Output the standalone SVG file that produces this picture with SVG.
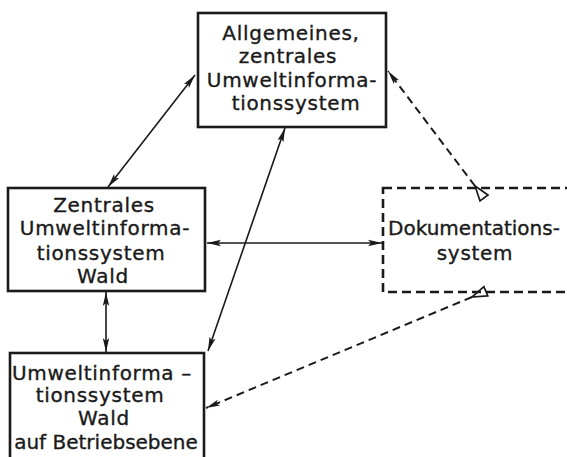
<svg xmlns="http://www.w3.org/2000/svg" width="567" height="457" viewBox="0 0 567 457">
<defs>
<style>
.box{fill:none;stroke:#1a1a1a;stroke-width:2.6}
.dbox{fill:none;stroke:#1a1a1a;stroke-width:2.6;stroke-dasharray:9 5}
.t{font-family:"DejaVu Sans",sans-serif;font-size:20px;letter-spacing:0.7px;fill:#1a1a1a;stroke:#1a1a1a;stroke-width:0.35;text-anchor:middle}
.t0{letter-spacing:0px}
.c{fill:none;stroke:#1a1a1a;stroke-width:1.6}
.cd{fill:none;stroke:#1a1a1a;stroke-width:2;stroke-dasharray:8 5}
</style>
<marker id="af" viewBox="0 0 14 8" refX="14" refY="4" markerWidth="14" markerHeight="8" markerUnits="userSpaceOnUse" orient="auto-start-reverse">
<path d="M0,0.8 L14,4 L0,7.2 L3,4 Z" fill="#1a1a1a"/>
</marker>
<marker id="ao" viewBox="0 0 17 13" refX="16" refY="6.5" markerWidth="17" markerHeight="13" markerUnits="userSpaceOnUse" orient="auto">
<path d="M1,1.5 L16,6.5 L1,11.5 Z" fill="#fff" stroke="#1a1a1a" stroke-width="1.7" stroke-linejoin="miter"/>
</marker>
</defs>
<rect width="567" height="457" fill="#fff"/>
<g id="connectors">
<line class="c" x1="195" y1="75" x2="108" y2="187" marker-start="url(#af)" marker-end="url(#af)"/>
<line class="c" x1="285" y1="128" x2="208" y2="351" marker-start="url(#af)" marker-end="url(#af)"/>
<line class="c" x1="382" y1="243" x2="207" y2="243" marker-start="url(#af)" marker-end="url(#af)"/>
<line class="c" x1="106" y1="292" x2="106" y2="352" marker-start="url(#af)" marker-end="url(#af)"/>
<line class="cd" x1="475" y1="186" x2="388" y2="71" marker-start="url(#ao)" marker-end="url(#af)"/>
<line class="cd" x1="472" y1="297" x2="206" y2="408" marker-start="url(#ao)" marker-end="url(#af)"/>
</g>
<g id="n_allgemein">
<rect class="box" x="198" y="13" width="188" height="114"/>
<text class="t" x="291" y="40">Allgemeines,</text>
<text class="t" x="288" y="63">zentrales</text>
<text class="t" x="292" y="87">Umweltinforma-</text>
<text class="t" x="296" y="110">tionssystem</text>
</g>
<g id="n_zentral">
<rect class="box" x="8" y="188" width="197" height="103"/>
<text class="t" x="104" y="212">Zentrales</text>
<text class="t" x="105" y="235">Umweltinforma-</text>
<text class="t" x="101" y="260">tionssystem</text>
<text class="t" x="103" y="283">Wald</text>
</g>
<g id="n_doku">
<rect class="dbox" x="383" y="188" width="200" height="104"/>
<text class="t t0" x="474" y="235">Dokumentations-</text>
<text class="t" x="475" y="260">system</text>
</g>
<g id="n_betrieb">
<rect class="box" x="10" y="353" width="194" height="120"/>
<text class="t" x="102" y="380">Umweltinforma –</text>
<text class="t" x="100" y="402">tionssystem</text>
<text class="t" x="104" y="425">Wald</text>
<text class="t t0" x="106" y="449">auf Betriebsebene</text>
</g>
</svg>
